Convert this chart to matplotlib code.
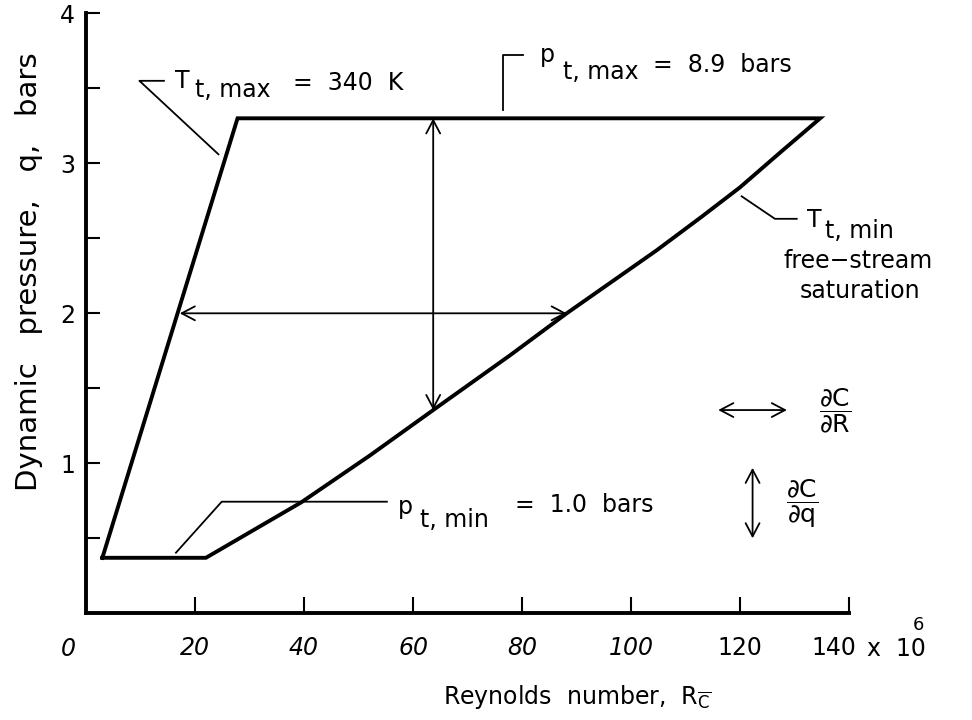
import matplotlib
matplotlib.use('Agg')
import matplotlib.pyplot as plt
from matplotlib.transforms import ScaledTranslation

plt.rcParams['font.family'] = 'DejaVu Sans'
plt.rcParams['mathtext.fontset'] = 'dejavusans'

# operating envelope: Reynolds number (x 10^6) vs dynamic pressure (bars)
env_re = [3.0, 22.0, 39.5, 52.0, 63.7, 77.8, 88.2, 104.7, 113.0, 120.0, 127.3, 134.7, 27.8, 3.0]
env_q = [0.37, 0.37, 0.74, 1.05, 1.355, 1.72, 2.0, 2.42, 2.645, 2.84, 3.07, 3.30, 3.30, 0.37]

# constant-q and constant-R sweeps across the envelope
sweep_re = [17.2, 88.2]
sweep_re_q = 2.0
sweep_q = [3.30, 1.355]
sweep_q_re = 63.7

x_ticks = [20, 40, 60, 80, 100, 120, 140]
x_labels = ['20', '40', '60', '80', '100', '120', '140']
y_ticks = [0.5, 1, 1.5, 2, 2.5, 3, 3.5, 4]
y_labels = ['', '1', '', '2', '', '3', '', '4']

fig = plt.figure(figsize=(9.72, 7.2), dpi=100)
ax = fig.add_axes([0.0885, 0.1482, 0.785, 0.8333])

ax.plot(env_re, env_q, color='black', lw=2.8, solid_joinstyle='miter')

arrow = dict(arrowstyle='<->,head_length=9.5,head_width=5', lw=1.3,
             color='black', shrinkA=0, shrinkB=0, mutation_scale=1)
ax.annotate('', xy=(sweep_re[1], sweep_re_q), xytext=(sweep_re[0], sweep_re_q), arrowprops=arrow)
ax.annotate('', xy=(sweep_q_re, sweep_q[1]), xytext=(sweep_q_re, sweep_q[0]), arrowprops=arrow)

# leader lines for the boundary labels
thin = dict(color='black', lw=1.3)
ax.plot([24.3, 9.8, 14.3], [3.06, 3.55, 3.55], **thin)
ax.plot([76.5, 76.5, 80.2], [3.355, 3.72, 3.72], **thin)
ax.plot([120.3, 126.4, 130.4], [2.78, 2.63, 2.63], **thin)
ax.plot([16.5, 24.9, 55.2], [0.404, 0.744, 0.744], **thin)

fs = 17
txt = dict(fontsize=fs, va='baseline', ha='left')
ax.text(16.3, 3.50, 'T', **txt)
ax.text(20.0, 3.44, 't, max', **txt)
ax.text(38.0, 3.49, '=  340  K', **txt)

ax.text(83.3, 3.677, 'p', **txt)
ax.text(87.5, 3.56, 't, max', **txt)
ax.text(104.0, 3.61, '=  8.9  bars', **txt)

ax.text(132.3, 2.575, 'T', **txt)
ax.text(135.6, 2.50, 't, min', **txt)
ax.text(141.7, 2.30, 'free\u2212stream', fontsize=fs, va='baseline', ha='center', clip_on=False)
ax.text(142.0, 2.10, 'saturation', fontsize=fs, va='baseline', ha='center', clip_on=False)

ax.text(57.2, 0.664, 'p', **txt)
ax.text(61.3, 0.577, 't, min', **txt)
ax.text(78.7, 0.677, '=  1.0  bars', **txt)

# key for the two sensitivity directions
ax.annotate('', xy=(128.6, 1.355), xytext=(116.0, 1.355), arrowprops=arrow)
ax.text(137.4, 1.355, r'$\dfrac{\mathregular{\partial C}}{\mathregular{\partial R}}$',
        fontsize=18, ha='center', va='center')
ax.annotate('', xy=(122.3, 0.50), xytext=(122.3, 0.97), arrowprops=arrow)
ax.text(131.4, 0.729, r'$\dfrac{\mathregular{\partial C}}{\mathregular{\partial q}}$',
        fontsize=18, ha='center', va='center')

ax.set_xlim(0, 140)
ax.set_ylim(0, 4)
ax.spines['top'].set_visible(False)
ax.spines['right'].set_visible(False)
ax.spines['left'].set_linewidth(2.8)
ax.spines['bottom'].set_linewidth(2.8)

ax.set_xticks(x_ticks)
ax.set_xticklabels(x_labels)
ax.set_yticks(y_ticks)
ax.set_yticklabels(y_labels)
ax.tick_params(axis='x', direction='in', length=11.5, width=1.5, pad=16, labelsize=fs)
ax.tick_params(axis='y', direction='in', length=10, width=1.5, pad=8, labelsize=fs)
for lab in ax.get_xticklabels()[:5]:
    lab.set_fontstyle('italic')
last = ax.get_xticklabels()[-1]
last.set_transform(last.get_transform() + ScaledTranslation(-15 / 100, 0, fig.dpi_scale_trans))

ax.annotate('0', xy=(0, 0), xytext=(-13, -17), textcoords='offset points',
            fontsize=fs, style='italic', ha='center', va='top')
ax.annotate('x  10', xy=(140, 0), xytext=(13, -17), textcoords='offset points',
            fontsize=fs, ha='left', va='top')
ax.annotate('6', xy=(140, 0), xytext=(46, -2), textcoords='offset points',
            fontsize=13, ha='left', va='top')

ax.set_xlabel(r'Reynolds  number,  R$_{\overline{\mathregular{C}}}$', fontsize=17)
ax.xaxis.set_label_coords(0.643, -0.116)
ax.set_ylabel('Dynamic   pressure,   q,   bars', fontsize=21)
ax.yaxis.set_label_coords(-0.057, 0.57)

fig.savefig('out.png', dpi=100)
